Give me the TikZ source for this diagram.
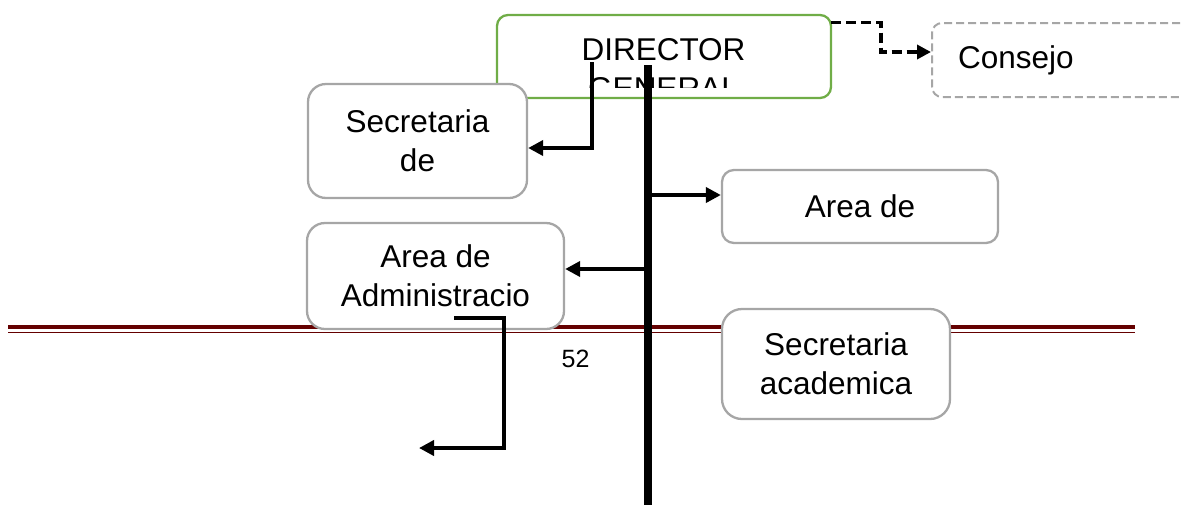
\documentclass[tikz,border=0pt]{standalone}
\usepackage{fontspec}
\setmainfont{Liberation Sans}
\usetikzlibrary{arrows.meta}
\definecolor{boxgray}{RGB}{166,166,166}
\definecolor{dirgreen}{RGB}{112,173,71}
\definecolor{rulered}{RGB}{100,0,0}
\tikzset{
  bigfont/.style={font=\fontsize{31.5}{39}\selectfont},
  orgbox/.style={draw=boxgray, line width=2.3pt, fill=white, inner sep=0pt, align=center, bigfont},
  dirbox/.style={draw=dirgreen, line width=2.3pt, fill=white, rounded corners=11pt, inner sep=0pt, minimum width=334pt, minimum height=83pt},
  consbox/.style={draw=boxgray, line width=2pt, dash pattern=on 8pt off 4pt, fill=white, rounded corners=10pt, inner ysep=0pt, inner xsep=26pt, minimum height=74pt, text width=230pt, align=left, bigfont},
  conn/.style={draw=black, line width=4pt, -{Triangle[length=15pt,width=15pt]}},
  dconn/.style={draw=black, line width=3.4pt, dash pattern=on 10pt off 5pt, -{Triangle[length=14pt,width=14pt]}},
  spine/.style={draw=black, line width=8pt}
}
\begin{document}
\begin{tikzpicture}[x=1pt,y=-1pt]
\useasboundingbox (0,0) rectangle (1182,504);
% page rule
\draw[rulered, line width=4pt] (8,327) -- (1135,327);
\draw[rulered, line width=1.3pt] (8,332.3) -- (1135,332.3);
% page number
\node[font=\fontsize{25}{30}\selectfont, anchor=base, inner sep=0pt] (pnum) at (575.5,367) {52};
% director
\node[dirbox] (dir) at (664,56.5) {};
\begin{scope}
  \clip (497,15) rectangle (831,87);
  \node[bigfont, align=center, inner sep=0pt] (dirtxt) at (663.5,69) {DIRECTOR\\GENERAL};
\end{scope}
% consejo
\node[consbox, anchor=west] (cons) at (931,60) {Consejo};
% other boxes
\node[orgbox, rounded corners=18pt, minimum width=219pt, minimum height=114pt] (sec) at (417.5,141) {Secretaria\\de};
\node[orgbox, rounded corners=12pt, minimum width=276pt, minimum height=73pt] (area) at (860,206.5) {Area de};
\node[orgbox, rounded corners=18pt, minimum width=257pt, minimum height=106pt] (adm) at (435.5,276) {Area de\\Administracio};
\node[orgbox, rounded corners=20pt, minimum width=228pt, minimum height=110pt] (acad) at (836,364) {Secretaria\\academica};
% connector coordinates
\coordinate (dcStart) at (831,22.5);
\coordinate (s1) at (592,62);
\coordinate (spTop) at (648,65);
\coordinate (spBot) at (648,506);
\coordinate (admStart) at (454,318);
\coordinate (admEnd) at (419,448);
% connectors
\draw[dconn] (dcStart) -- (881,22.5) -- (881,52) -- (cons.west |- 0,52);
\draw[conn] (s1) -- (592,148) -- (sec.east |- 0,148);
\draw[spine] (spTop) -- (spBot);
\draw[conn] (648,195) -- (area.west |- 0,195);
\draw[conn] (648,269) -- (adm.east |- 0,269);
\draw[conn] (admStart) -- (504,318) -- (504,448) -- (admEnd);
\end{tikzpicture}
\end{document}
